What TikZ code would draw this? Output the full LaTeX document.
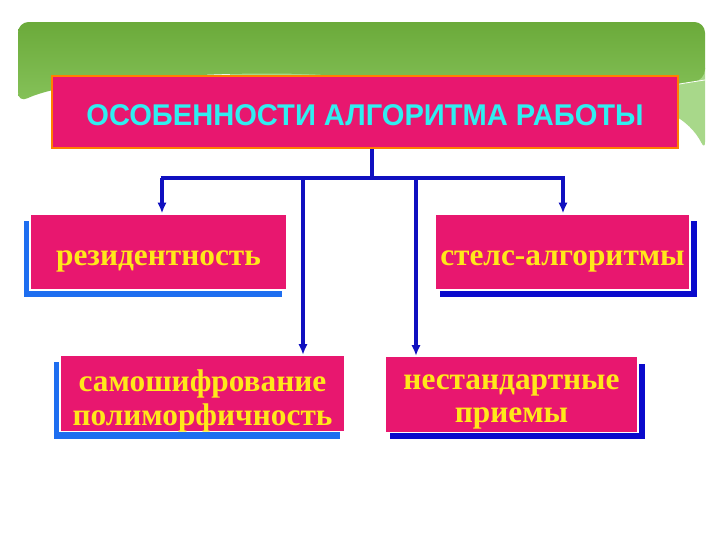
\documentclass[tikz,border=0pt]{standalone}
\usepackage{fontspec}
\setmainfont{Liberation Serif}
\newfontfamily\titlefont{Liberation Sans}
\usetikzlibrary{arrows.meta}
\definecolor{pinkbox}{HTML}{E8176F}
\definecolor{lineblue}{HTML}{1010C0}
\definecolor{ltblue}{HTML}{1E6EF0}
\definecolor{dkblue}{HTML}{0A0ACC}
\definecolor{ytext}{HTML}{FFE81A}
\definecolor{ctext}{HTML}{30EEF0}
\definecolor{gdark}{HTML}{6BAA3A}
\definecolor{gmid}{HTML}{86C25A}
\definecolor{glight}{HTML}{A8D88A}
\tikzset{
  box/.style={fill=pinkbox, draw=white, line width=1pt, minimum width=#1*0.75pt, minimum height=76*0.75pt, inner sep=0pt},
  btext/.style={align=center, text=ytext, inner sep=0pt, font=\bfseries\fontsize{23.5}{25}\selectfont},
  conn/.style={draw=lineblue, line width=3pt},
  arr/.style={conn, -{Latex[length=8pt,width=7pt]}},
}
\begin{document}
\begin{tikzpicture}[x=0.75pt,y=-0.75pt]
\useasboundingbox (0,0) rectangle (720,540);
\fill[white] (0,0) rectangle (720,540);
% banner: light layer
\fill[glight, rounded corners=6pt] (230,60) -- (705,60) -- (705,150) .. controls (690,120) and (660,100) .. (600,103) -- (470,103) .. controls (400,85) and (300,78) .. (230,82) -- cycle;
% dark layer
\shade[top color=gdark, bottom color=gmid, rounded corners=8pt]
  (18,22) -- (705,22) -- (705,80) .. controls (640,90) and (600,100) .. (560,102) .. controls (500,100) and (470,90) .. (440,88) .. controls (330,70) and (250,72) .. (140,78) .. controls (80,82) and (40,92) .. (18,103) -- cycle;
\draw[white, line width=0.6pt] (560,102) .. controls (620,95) and (670,85) .. (705,80);
% title
\node[fill=pinkbox, draw=orange, line width=1.5pt, minimum width=626*0.75pt, minimum height=72*0.75pt, inner sep=0pt] (title) at (365,112) {};
\node[text=ctext, font=\titlefont\bfseries\fontsize{22.5}{24}\selectfont, inner sep=0pt] (ttext) at (365,115) {\scalebox{0.97}[1]{ОСОБЕННОСТИ АЛГОРИТМА РАБОТЫ}};
% shadows
\fill[ltblue] (24,221) rectangle (282,297);
\fill[dkblue] (440,221) rectangle (697,297);
\fill[ltblue] (54,362) rectangle (340,439);
\fill[dkblue] (390,364) rectangle (645,439);
% boxes
\node[box=257] (b1) at (158.5,252) {};
\node[box=255] (b2) at (562.5,252) {};
\node[box=285] (b3) at (202.5,393.5) {};
\node[box=253] (b4) at (511.5,394.5) {};
\node[btext] (t1) at (158.5,261) {резидентность};
\node[btext] (t2) at (562.5,261) {стелс-алгоритмы};
\node[btext] (t3) at (202.5,401) {самошифрование\\полиморфичность};
\node[btext] (t4) at (511.5,402) {нестандартные\\приемы};
% connectors
\coordinate (j) at (372,178);
\draw[conn] (title.south -| j) -- (j);
\draw[conn] (160.5,178) -- (564.5,178);
\draw[arr] (162,178) -- (b1.north -| 162,0);
\draw[arr] (563,178) -- (b2.north -| 563,0);
\draw[arr] (303,178) -- (b3.north -| 303,0);
\draw[arr] (416,178) -- (b4.north -| 416,0);
\end{tikzpicture}
\end{document}
